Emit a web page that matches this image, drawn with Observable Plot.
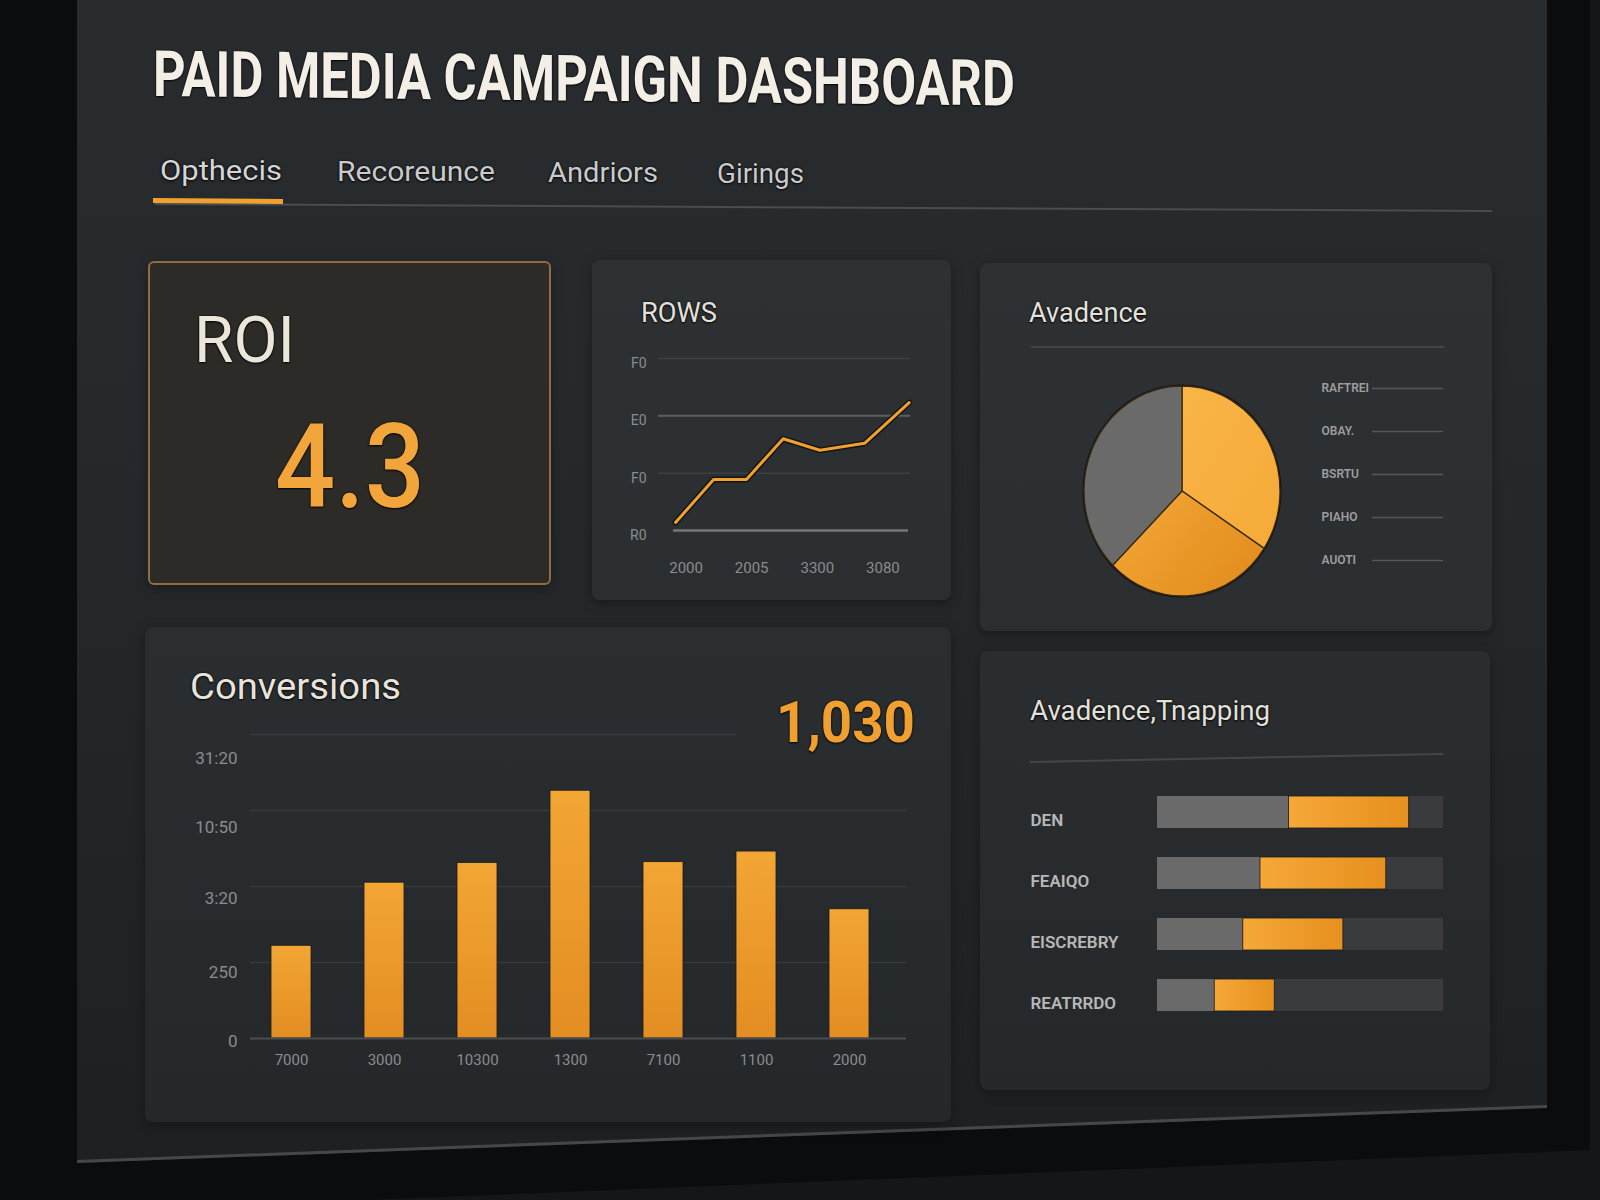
<!DOCTYPE html>
<html><head><meta charset="utf-8">
<script src="https://cdn.jsdelivr.net/npm/d3@7"></script>
<script src="https://cdn.jsdelivr.net/npm/@observablehq/plot@0.6"></script>
<style>
html,body{margin:0;padding:0;background:#151617;}
body{width:1600px;height:1200px;overflow:hidden;position:relative;font-family:Roboto,"Noto Sans",sans-serif;}
.layer{position:absolute;left:0;top:0;width:1600px;height:1200px;}
#bezel{background:#0b0c0d;clip-path:polygon(0 0,1590px 0,1590px 1150px,0 1215px);}
#screen{background:linear-gradient(180deg,#292c2f 0%,#25282b 45%,#1d2023 100%);clip-path:polygon(77px 0,1547px 0,1547px 1108px,77px 1163px);}
#edge{background:#45484b;clip-path:polygon(77px 1160px,1547px 1105px,1547px 1108px,77px 1163px);}
.line{position:absolute;left:0;top:0;width:1600px;height:1200px;}
.card{position:absolute;border-radius:8px;background:rgba(255,255,255,0.035);box-shadow:0 3px 12px rgba(0,0,0,0.35);}
.txt{position:absolute;white-space:nowrap;line-height:1;transform-origin:0 50%;text-shadow:0 0 2px #000,0 1px 2px rgba(0,0,0,.8);}
.plot{position:absolute;}
.plot svg{overflow:visible;}
</style></head>
<body>
<div id="bezel" class="layer"></div>
<div id="screen" class="layer"></div>
<div id="edge" class="layer"></div>
<script>
// ---------- DATA ----------
const dashboardTitle = "PAID MEDIA CAMPAIGN DASHBOARD";
const tabs = ["Opthecis", "Recoreunce", "Andriors", "Girings"];
const roiLabel = "ROI";
const roiValue = "4.3";

const rowsTitle = "ROWS";
const rowsX = [1999.2, 2002.1, 2004.6, 2007.4, 2010.2, 2013.6, 2017.0];
const rowsY = [0.14, 0.89, 0.89, 1.60, 1.40, 1.52, 2.23];
const rowsYTicks = [0, 1, 2, 3];
const rowsYTickLabels = ["R0", "F0", "E0", "F0"];
const rowsXTicks = [2000, 2005, 2010, 2015];
const rowsXTickLabels = ["2000", "2005", "3300", "3080"];

const pieTitle = "Avadence";
const pieShares = [34.2, 28.3, 37.5];
const pieLegend = ["RAFTREI", "OBAY.", "BSRTU", "PIAHO", "AUOTI"];

const convTitle = "Conversions";
const convTotal = "1,030";
const convCategories = ["7000", "3000", "10300", "1300", "7100", "1100", "2000"];
const convValues = [1.22, 2.05, 2.31, 3.26, 2.32, 2.46, 1.70];
const convGrid = [0, 1, 2, 3, 4];
const convTickPos = [-0.04, 0.87, 1.84, 2.78, 3.68];
const convTickLabels = ["0", "250", "3:20", "10:50", "31:20"];

const trapTitle = "Avadence,Tnapping";
const trapLabels = ["DEN", "FEAIQO", "EISCREBRY", "REATRRDO"];
const trapBase = [46, 36, 30, 20];
const trapHighlight = [42, 44, 35, 21];

// ---------- STYLE ----------
const ORANGE = "#f0a030";
const TICK = "#8a8c8e";
const pieFills = ["url(#pieA)", "url(#pieB)", "#6a6a6a"];

// ---------- HELPERS ----------
function addDiv(cls, css) {
  const el = document.createElement("div");
  el.className = cls;
  Object.assign(el.style, css);
  document.body.appendChild(el);
  return el;
}
function addText(str, x, yc, size, opts = {}) {
  const el = document.createElement("div");
  el.className = "txt";
  el.textContent = str;
  el.style.left = x + "px";
  el.style.top = (yc - 0.49 * size) + "px";
  el.style.fontSize = size + "px";
  el.style.color = opts.color || "#e6e2da";
  el.style.fontWeight = opts.weight || 400;
  document.body.appendChild(el);
  let t = "";
  if (opts.w) {
    const w = el.getBoundingClientRect().width;
    t += `scaleX(${opts.w / w}) `;
  }
  if (opts.extra) t += opts.extra;
  el.style.transform = t;
  return el;
}
function place(node, left, top) {
  const wrap = document.createElement("div");
  wrap.className = "plot";
  wrap.style.left = left + "px";
  wrap.style.top = top + "px";
  wrap.appendChild(node);
  document.body.appendChild(wrap);
}
function defs(html) {
  return () => {
    const g = document.createElementNS("http://www.w3.org/2000/svg", "defs");
    g.innerHTML = html;
    return g;
  };
}

// ---------- DECOR ----------
addDiv("line", {background: "#4a4d50", clipPath: "polygon(155px 203px,1492px 210px,1492px 212px,155px 205px)"});
addDiv("line", {background: ORANGE, clipPath: "polygon(153px 198px,283px 199px,283px 204px,153px 203px)"});

addDiv("card", {left: "148px", top: "261px", width: "403px", height: "324px", background: "#2c2b28", border: "2px solid #8f6d3c", borderRadius: "6px", boxSizing: "border-box"});
addDiv("card", {left: "592px", top: "260px", width: "359px", height: "340px"});
addDiv("card", {left: "980px", top: "263px", width: "512px", height: "368px"});
addDiv("card", {left: "145px", top: "627px", width: "806px", height: "495px"});
addDiv("card", {left: "980px", top: "651px", width: "510px", height: "439px"});

addDiv("line", {background: "#44474a", clipPath: "polygon(1031px 346px,1444px 346px,1444px 348px,1031px 348px)"});
addDiv("line", {background: "#44474a", clipPath: "polygon(1030px 761px,1443px 753px,1443px 755px,1030px 763px)"});

// ---------- TEXTS ----------
addText(dashboardTitle, 153, 74, 64, {weight: 700, w: 862, color: "#f3efe6", extra: "skewY(0.5deg)"});
const tabPos = [[160, 171, 122], [337, 172, 158], [548, 173, 110], [717, 174, 87]];
tabs.forEach((t, i) => addText(t, tabPos[i][0], tabPos[i][1], 28, {w: tabPos[i][2], color: i === 0 ? "#d6d6d6" : "#cbcbcb"}));
addText(roiLabel, 194, 340, 64, {w: 101, color: "#ece6da"});
addText(roiValue, 275, 466, 116, {w: 150, weight: 500, color: "#f2a53a"});
addText(rowsTitle, 641, 313, 27, {w: 76, color: "#e4e1da"});
addText(pieTitle, 1029, 313, 27, {w: 118, color: "#e4e1da"});
addText(convTitle, 190, 687, 36, {w: 211, color: "#e8e4dc"});
addText(convTotal, 776, 721, 58, {w: 139, weight: 700, color: ORANGE});
addText(trapTitle, 1030, 711, 27, {w: 240, color: "#e4e1da"});

// ---------- ROWS line chart ----------
const rowsData = rowsX.map((x, i) => ({x, y: rowsY[i]}));
place(Plot.plot({
  width: 340, height: 250,
  marginLeft: 58, marginRight: 30, marginTop: 18, marginBottom: 60,
  style: {background: "transparent", color: TICK, fontFamily: "Roboto, sans-serif", fontSize: "14px"},
  x: {domain: [1997.9, 2017.1], axis: null},
  y: {domain: [0, 3], axis: null},
  marks: [
    Plot.ruleY([1, 3], {stroke: "#3d4043", strokeWidth: 1.5}),
    Plot.ruleY([2], {stroke: "#5c5f62", strokeWidth: 2}),
    Plot.ruleY([0], {stroke: "#74777a", strokeWidth: 2.5, insetLeft: 15, insetRight: 2}),
    Plot.line(rowsData, {x: "x", y: "y", stroke: "#141414", strokeWidth: 6}),
    Plot.line(rowsData, {x: "x", y: "y", stroke: ORANGE, strokeWidth: 3}),
    Plot.axisX(rowsXTicks, {label: null, tickSize: 0, tickPadding: 32, fontSize: 15, fill: TICK,
      tickFormat: d => rowsXTickLabels[rowsXTicks.indexOf(d)]}),
    Plot.axisY(rowsYTicks, {label: null, tickSize: 0, tickPadding: 12, dy: 5, fontSize: 14, fill: TICK,
      tickFormat: d => rowsYTickLabels[rowsYTicks.indexOf(d)]})
  ]
}), 600, 340);

// ---------- Pie ----------
const pieData = pieShares.map((share, i) => ({share, i}));
place(Plot.plot({
  width: 220, height: 222,
  marginLeft: 12, marginRight: 12, marginTop: 6, marginBottom: 6,
  style: {background: "transparent"},
  x: {domain: [-1, 1], axis: null},
  y: {domain: [-1, 1], axis: null},
  marks: [
    defs(`<linearGradient id="pieA" x1="0" y1="0" x2="1" y2="1"><stop offset="0" stop-color="#f9b547"/><stop offset="1" stop-color="#f6aa38"/></linearGradient>
          <linearGradient id="pieB" x1="0" y1="0" x2="1" y2="0.6"><stop offset="0" stop-color="#f3a838"/><stop offset="1" stop-color="#e38f1f"/></linearGradient>`),
    (index, scales, values, dims) => {
      const fw = dims.width - dims.marginLeft - dims.marginRight;
      const fh = dims.height - dims.marginTop - dims.marginBottom;
      const cx = scales && scales.x ? scales.x(0) : dims.marginLeft + fw / 2;
      const cy = scales && scales.y ? scales.y(0) : dims.marginTop + fh / 2;
      const rx = scales && scales.x ? Math.abs(scales.x(1) - scales.x(0)) : fw / 2;
      const ry = scales && scales.y ? Math.abs(scales.y(1) - scales.y(0)) : fh / 2;
      const g = d3.create("svg:g").attr("transform", `translate(${cx},${cy}) scale(1,${ry / rx})`);
      const arcs = d3.pie().sort(null).value(d => d.share)(pieData);
      const arc = d3.arc().innerRadius(0).outerRadius(rx);
      g.append("circle").attr("r", rx + 1.5).attr("fill", "#121212");
      g.selectAll("path").data(arcs).join("path")
        .attr("d", arc)
        .attr("fill", d => pieFills[d.index])
        .attr("stroke", "#3a2a14").attr("stroke-width", 1.3);
      return g.node();
    }
  ]
}), 1072, 380);

// pie legend
place(Plot.plot({
  width: 160, height: 210,
  marginLeft: 21, marginRight: 17, marginTop: 17, marginBottom: 20,
  style: {background: "transparent", fontFamily: "Roboto, sans-serif"},
  x: {domain: [0, 1], axis: null},
  y: {domain: pieLegend, type: "point", padding: 0, axis: null},
  marks: [
    Plot.ruleY(pieLegend, {y: d => d, stroke: "#55585b", strokeWidth: 1.5, insetLeft: 51}),
    Plot.text(pieLegend, {y: d => d, text: d => d, frameAnchor: "left", textAnchor: "start",
      fill: "#9d9d9d", fontSize: 12, fontWeight: 600})
  ]
}), 1300, 370);

// ---------- Conversions bars ----------
const convData = convCategories.map((cat, i) => ({cat, value: convValues[i]}));
place(Plot.plot({
  width: 790, height: 360,
  marginLeft: 105, marginRight: 29, marginTop: 14, marginBottom: 42,
  style: {background: "transparent", color: TICK, fontFamily: "Roboto, sans-serif"},
  x: {domain: convCategories, paddingInner: 0.571, paddingOuter: 0.305, align: 0.37, axis: null},
  y: {domain: [0, 4], axis: null},
  marks: [
    defs(`<linearGradient id="convGrad" x1="0" y1="0" x2="0" y2="1"><stop offset="0" stop-color="#f2a634"/><stop offset="1" stop-color="#e38d22"/></linearGradient>`),
    Plot.ruleY(convGrid.slice(1, 4), {stroke: "#373a3d", strokeWidth: 1.5}),
    Plot.ruleY(convGrid.slice(4), {stroke: "#373a3d", strokeWidth: 1.5, insetRight: 170}),
    Plot.barY(convData, {x: "cat", y: "value", fill: "url(#convGrad)", stroke: "#1a1a1a", strokeWidth: 0.8}),
    Plot.ruleY(convGrid.slice(0, 1), {stroke: "#4a4d50", strokeWidth: 2}),
    Plot.axisX({label: null, tickSize: 0, tickPadding: 16, fontSize: 15, fill: TICK}),
    Plot.axisY(convTickPos, {label: null, tickSize: 0, tickPadding: 13, fontSize: 17, fill: TICK,
      tickFormat: d => convTickLabels[convTickPos.indexOf(d)]})
  ]
}), 145, 720);

// ---------- Horizontal bars ----------
const trapData = trapLabels.map((label, i) => ({label, base: trapBase[i], hi: trapHighlight[i]}));
place(Plot.plot({
  width: 450, height: 300,
  marginLeft: 137, marginRight: 27, marginTop: 7, marginBottom: 19,
  style: {background: "transparent", fontFamily: "Roboto, sans-serif"},
  x: {domain: [0, 100], axis: null},
  y: {domain: trapLabels, padding: 0.47, axis: null},
  marks: [
    defs(`<linearGradient id="hGrad" x1="0" y1="0" x2="1" y2="0"><stop offset="0" stop-color="#f5a838"/><stop offset="1" stop-color="#e6901f"/></linearGradient>`),
    Plot.barX(trapData, {y: "label", x1: 0, x2: 100, fill: "#393b3e"}),
    Plot.barX(trapData, {y: "label", x1: 0, x2: "base", fill: "#6a6a6a"}),
    Plot.barX(trapData, {y: "label", x1: "base", x2: d => d.base + d.hi, fill: "url(#hGrad)", stroke: "#1a1a1a", strokeWidth: 0.8}),
    Plot.text(trapData, {y: "label", text: "label", frameAnchor: "left", textAnchor: "start",
      dx: -127, dy: 8, fill: "#b8b8b8", fontSize: 17, fontWeight: 600})
  ]
}), 1020, 760);
</script>
</body></html>
